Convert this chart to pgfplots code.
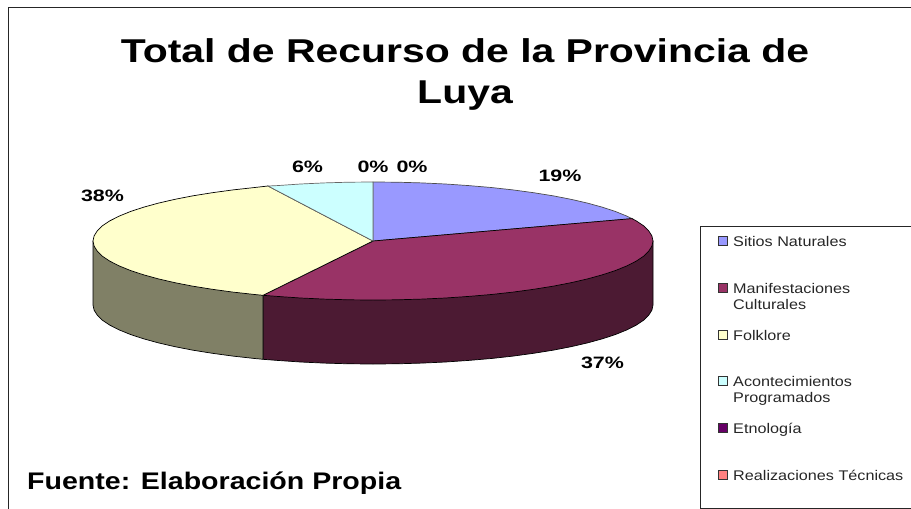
\documentclass[border=0pt]{standalone}
\usepackage{pgfplots}
\pgfplotsset{compat=1.18}
\usepackage{fontspec}
\setmainfont{Liberation Sans}
\definecolor{cA}{HTML}{9999FF}
\definecolor{cB}{HTML}{993366}
\definecolor{cC}{HTML}{FFFFCC}
\definecolor{cD}{HTML}{CCFFFF}
\definecolor{cE}{HTML}{660066}
\definecolor{cF}{HTML}{FF8080}
\definecolor{sB}{HTML}{4C1A33}
\definecolor{sC}{HTML}{808066}
\newcommand{\tbig}[1]{\scalebox{1.24}[1]{\fontsize{33}{33}\selectfont\bfseries #1}}
\newcommand{\tlab}[1]{\scalebox{1.3}[1]{\fontsize{16.5}{16.5}\selectfont\bfseries #1}}
\newcommand{\tfoot}[1]{\scalebox{1.19}[1]{\fontsize{24}{24}\selectfont\bfseries #1}}
\newcommand{\tleg}[1]{\scalebox{1.157}[1]{\fontsize{14}{14}\selectfont\color{black!85} #1}}
\begin{document}
\begin{tikzpicture}[x=1pt,y=1pt]
\useasboundingbox (0,0) rectangle (911pt,509pt);
\begin{axis}[
  at={(0,0)},anchor=south west,
  scale only axis,width=911pt,height=509pt,
  xmin=0,xmax=911,ymin=0,ymax=509,y dir=reverse,
  hide axis,clip=true]
% frame
\addplot[black!85,line width=0.9pt] coordinates {(8,509) (8,7) (911,7)};
% legend box
\addplot[black!85,line width=0.9pt] coordinates {(911,226) (700,226) (700,508) (911,508)};
% side wall, Manifestaciones Culturales
\addplot[fill=sB,draw=black,line width=0.7pt] coordinates {
(263,295.3) (653,241) (653,305) (651.9,310.1) (648.7,315.2) (643.5,320.3) (636.1,325.2) (626.8,329.9)
(615.5,334.5) (602.4,338.8) (587.5,342.9) (571,346.7) (553,350.2) (533.6,353.3) (513,356.1)
(491.3,358.5) (468.8,360.4) (445.5,362) (421.6,363.1) (397.4,363.8) (373,364) (348.6,363.8)
(324.4,363.1) (300.5,362) (277.2,360.4) (263,359.3)} -- cycle;
% side wall, Folklore
\addplot[fill=sC,draw=black,line width=0.7pt] coordinates {
(263,295.3) (263,359.3) (254.7,358.5) (233,356.1) (212.4,353.3) (193,350.2) (175,346.7) (158.5,342.9)
(143.6,338.8) (130.5,334.5) (119.2,329.9) (109.9,325.2) (102.5,320.3) (97.3,315.2) (94.1,310.1)
(93,305) (93,241)} -- cycle;
% top, Sitios Naturales
\addplot[fill=cA,draw=black!70,line width=0.7pt] coordinates {
(373,241) (373,182) (397.4,182.2) (421.6,182.9) (445.5,184) (468.8,185.6) (491.3,187.5) (513,189.9)
(533.6,192.7) (553,195.8) (571,199.3) (587.5,203.1) (602.4,207.2) (615.5,211.5) (626.8,216.1) (632,218.6)} -- cycle;
% top, Manifestaciones Culturales
\addplot[fill=cB,draw=black,line width=0.7pt] coordinates {
(373,241) (632,218.6) (636.1,220.8) (643.5,225.7) (648.7,230.8) (651.9,235.9) (653,241)
(651.9,246.1) (648.7,251.2) (643.5,256.3) (636.1,261.2) (626.8,265.9) (615.5,270.5) (602.4,274.8)
(587.5,278.9) (571,282.7) (553,286.2) (533.6,289.3) (513,292.1) (491.3,294.5) (468.8,296.4)
(445.5,298) (421.6,299.1) (397.4,299.8) (373,300) (348.6,299.8) (324.4,299.1) (300.5,298)
(277.2,296.4) (263,295.3)} -- cycle;
% top, Folklore
\addplot[fill=cC,draw=black,line width=0.7pt] coordinates {
(373,241) (263,295.3) (254.7,294.5) (233,292.1) (212.4,289.3) (193,286.2) (175,282.7) (158.5,278.9)
(143.6,274.8) (130.5,270.5) (119.2,265.9) (109.9,261.2) (102.5,256.3) (97.3,251.2) (94.1,246.1)
(93,241) (94.1,235.9) (97.3,230.8) (102.5,225.7) (109.9,220.8) (119.2,216.1) (130.5,211.5)
(143.6,207.2) (158.5,203.1) (175,199.3) (193,195.8) (212.4,192.7) (233,189.9) (254.7,187.5) (268,186)} -- cycle;
% top, Acontecimientos Programados
\addplot[fill=cD,draw=black!60,line width=0.7pt] coordinates {
(373,241) (268,186) (277.2,185.6) (300.5,184) (324.4,182.9) (348.6,182.2) (373,182)} -- cycle;
% legend swatches
\addplot[only marks,mark=square*,mark size=4.5pt,mark options={fill=cA,draw=black!80}] coordinates {(722.5,241)};
\addplot[only marks,mark=square*,mark size=4.5pt,mark options={fill=cB,draw=black!80}] coordinates {(722.5,288)};
\addplot[only marks,mark=square*,mark size=4.5pt,mark options={fill=cC,draw=black!80}] coordinates {(722.5,335)};
\addplot[only marks,mark=square*,mark size=4.5pt,mark options={fill=cD,draw=black!80}] coordinates {(722.5,381)};
\addplot[only marks,mark=square*,mark size=4.5pt,mark options={fill=cE,draw=black!80}] coordinates {(722.5,428)};
\addplot[only marks,mark=square*,mark size=4.5pt,mark options={fill=cF,draw=black!80}] coordinates {(722.5,475)};
% texts
\node[inner sep=0pt,anchor=base] at (axis cs:465,62) {\tbig{Total de Recurso de la Provincia de}};
\node[inner sep=0pt,anchor=base] at (axis cs:465,103) {\tbig{Luya}};
\node[inner sep=0pt,anchor=base] at (axis cs:560,181.5) {\tlab{19\%}};
\node[inner sep=0pt,anchor=base] at (axis cs:602.5,368) {\tlab{37\%}};
\node[inner sep=0pt,anchor=base] at (axis cs:102.5,201.5) {\tlab{38\%}};
\node[inner sep=0pt,anchor=base] at (axis cs:307.5,172) {\tlab{6\%}};
\node[inner sep=0pt,anchor=base] at (axis cs:373,172) {\tlab{0\%}};
\node[inner sep=0pt,anchor=base] at (axis cs:412,172) {\tlab{0\%}};
\node[inner sep=0pt,anchor=base west] at (axis cs:27,489) {\tfoot{Fuente: Elaboración Propia}};
\node[inner sep=0pt,anchor=base west] at (axis cs:733,246) {\tleg{Sitios Naturales}};
\node[inner sep=0pt,anchor=base west] at (axis cs:733,293) {\tleg{Manifestaciones}};
\node[inner sep=0pt,anchor=base west] at (axis cs:733,309) {\tleg{Culturales}};
\node[inner sep=0pt,anchor=base west] at (axis cs:733,340) {\tleg{Folklore}};
\node[inner sep=0pt,anchor=base west] at (axis cs:733,386.5) {\tleg{Acontecimientos}};
\node[inner sep=0pt,anchor=base west] at (axis cs:733,402) {\tleg{Programados}};
\node[inner sep=0pt,anchor=base west] at (axis cs:733,433) {\tleg{Etnología}};
\node[inner sep=0pt,anchor=base west] at (axis cs:733,480) {\tleg{Realizaciones Técnicas}};
\end{axis}
\end{tikzpicture}
\end{document}
